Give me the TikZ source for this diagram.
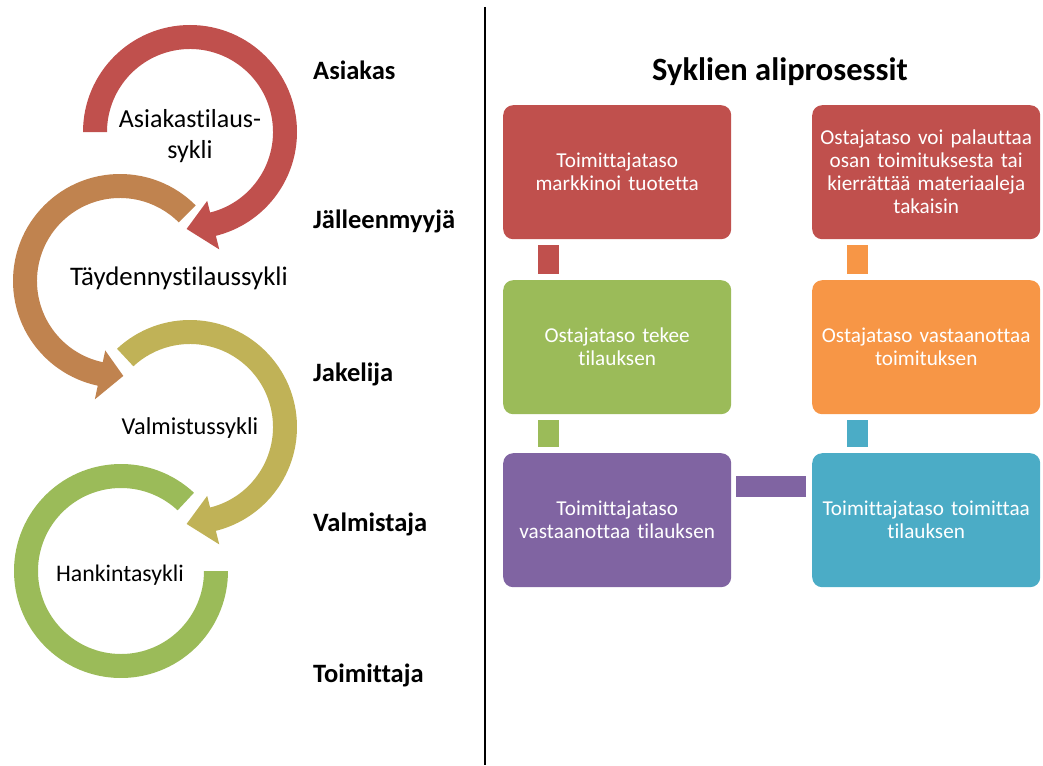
\documentclass[tikz,border=0pt]{standalone}
\usepackage{fontspec}
\setmainfont{Carlito}[Ligatures={NoCommon}]
\usetikzlibrary{calc}
\begin{document}
\begin{tikzpicture}[x=1pt,y=-1pt,
  stage/.style={font=\bfseries\fontsize{26.5}{30}\selectfont, anchor=west, inner sep=0pt},
  cyc/.style={align=center, inner sep=0pt},
  procbox/.style={rounded corners=10pt, minimum width=228pt, minimum height=134pt,
    text=white, align=center, inner sep=3pt, text width=222pt,
    font=\fontsize{21.2}{23}\selectfont, anchor=north west}]
\definecolor{cRed}{RGB}{192,80,77}
\definecolor{cBrown}{RGB}{192,131,79}
\definecolor{cOlive}{RGB}{192,178,87}
\definecolor{cGreen}{RGB}{155,187,89}
\definecolor{cPurple}{RGB}{128,100,162}
\definecolor{cBlue}{RGB}{75,172,198}
\definecolor{cOrange}{RGB}{247,150,70}
\useasboundingbox (0,0) rectangle (1043,765);

% circular arrows: band between radius 83 and 107, arrowhead wings at 71 and 121
% (angles are given in the flipped y system: positive = clockwise on the page)
% red: clockwise from the left side round to the bottom
\coordinate (cr) at (190,132);
\fill[cRed] ($(cr)+(-180:107)$) arc[start angle=-180,end angle=76,radius=107]
  -- ($(cr)+(76:121)$) -- ($(cr)+(92:97)$) -- ($(cr)+(76:71)$) -- ($(cr)+(76:83)$)
  arc[start angle=76,end angle=-180,radius=83] -- cycle;
% brown: counterclockwise from upper right round to the bottom
\coordinate (cb) at (120,281);
\fill[cBrown] ($(cb)+(-45:107)$) arc[start angle=-45,end angle=-258,radius=107]
  -- ($(cb)+(-258:121)$) -- ($(cb)+(-272:95)$) -- ($(cb)+(-258:71)$) -- ($(cb)+(-258:83)$)
  arc[start angle=-258,end angle=-45,radius=83] -- cycle;
% olive: clockwise from upper left round to the bottom
\coordinate (co) at (190,427);
\fill[cOlive] ($(co)+(-133:107)$) arc[start angle=-133,end angle=76,radius=107]
  -- ($(co)+(76:121)$) -- ($(co)+(92:97)$) -- ($(co)+(76:71)$) -- ($(co)+(76:83)$)
  arc[start angle=76,end angle=-133,radius=83] -- cycle;
% green: open ring without arrowhead
\coordinate (cg) at (121,571);
\fill[cGreen] ($(cg)+(-47:107)$) arc[start angle=-47,end angle=-360,radius=107]
  -- ($(cg)+(0:83)$) arc[start angle=-360,end angle=-47,radius=83] -- cycle;

% cycle names
\node[cyc, font=\fontsize{26}{31}\selectfont] (t1) at (190,136) {Asiakastilaus-\\sykli};
\node[cyc, font=\fontsize{26.8}{31}\selectfont] (t2) at (179,278) {Täydennystilaussykli};
\node[cyc, font=\fontsize{24.3}{31}\selectfont] (t3) at (190,428) {Valmistussykli};
\node[cyc, font=\fontsize{23.8}{31}\selectfont] (t4) at (120,575) {Hankintasykli};

% supply chain stages
\node[stage] (s1) at (313,70) {Asiakas};
\node[stage] (s2) at (313,221) {Jälleenmyyjä};
\node[stage] (s3) at (313,374) {Jakelija};
\node[stage] (s4) at (313,524) {Valmistaja};
\node[stage] (s5) at (313,675) {Toimittaja};

% divider
\draw[line width=2pt] (485,7) -- (485,765);

% sub-processes
\node[font=\bfseries\fontsize{32.5}{36}\selectfont] (title) at (780,72) {Syklien aliprosessit};

\node[procbox, fill=cRed] (b1) at (503,105) {Toimittajataso\\markkinoi tuotetta};
\node[procbox, fill=cGreen] (b2) at (503,280) {Ostajataso tekee\\tilauksen};
\node[procbox, fill=cPurple] (b3) at (503,453) {Toimittajataso\\vastaanottaa tilauksen};
\node[procbox, fill=cBlue] (b4) at (812,453) {Toimittajataso toimittaa\\tilauksen};
\node[procbox, fill=cOrange] (b5) at (812,280) {Ostajataso vastaanottaa\\toimituksen};
\node[procbox, fill=cRed] (b6) at (812,105) {Ostajataso voi palauttaa\\osan toimituksesta tai\\kierrättää materiaaleja\\takaisin};

% connectors between the steps
\fill[cRed] ([xshift=35pt,yshift=-6pt]b1.south west) rectangle ([xshift=56pt,yshift=6pt]b2.north west);
\fill[cGreen] ([xshift=35pt,yshift=-6pt]b2.south west) rectangle ([xshift=56pt,yshift=6pt]b3.north west);
\fill[cPurple] ([xshift=5pt,yshift=-23pt]b3.north east) rectangle ([xshift=-6pt,yshift=-44pt]b4.north west);
\fill[cBlue] ([xshift=35pt,yshift=6pt]b4.north west) rectangle ([xshift=56pt,yshift=-6pt]b5.south west);
\fill[cOrange] ([xshift=35pt,yshift=6pt]b5.north west) rectangle ([xshift=56pt,yshift=-6pt]b6.south west);
\end{tikzpicture}
\end{document}
